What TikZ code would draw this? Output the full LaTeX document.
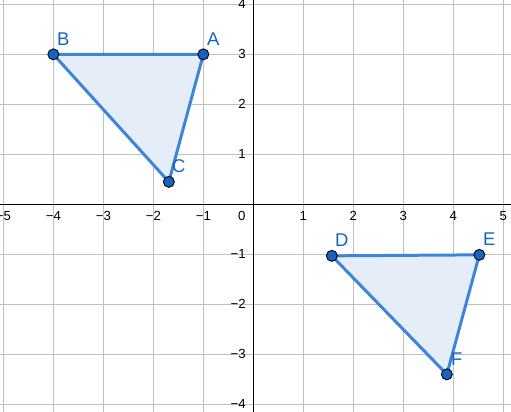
\documentclass[tikz,border=0pt]{standalone}
\usepackage{fontspec}
\setmainfont{Liberation Sans}
\usetikzlibrary{positioning, calc}

\definecolor{ptblue}{RGB}{21,101,192}
\definecolor{edgeblue}{RGB}{61,133,214}
\definecolor{areablue}{RGB}{229,237,249}
\definecolor{gridgray}{RGB}{192,192,192}

\tikzset{
  pt/.style={circle, draw=black, line width=0.5pt, fill=ptblue, inner sep=0pt, minimum size=2.2mm},
  ptlabel/.style={text=ptblue, font=\fontsize{10.5}{11}\selectfont},
  ticklabel/.style={font=\fontsize{7.5}{8}\selectfont, inner sep=0pt},
  triangle/.style={draw=edgeblue, line width=1.7pt, fill=areablue, line join=round}
}

\begin{document}
\begin{tikzpicture}[>=latex]
\useasboundingbox (-5.067,-4.153) rectangle (5.153,4.087);
\clip (-5.067,-4.153) rectangle (5.153,4.087);

% grid
\foreach \x in {-5,...,5} {
    \draw[gridgray, line width=0.55pt] (\x,-4.2) -- (\x,4.2);
};
\foreach \y in {-4,...,4} {
    \draw[gridgray, line width=0.55pt] (-5.1,\y) -- (5.2,\y);
};

% axes
\draw[black, line width=0.6pt] (-5.1,0) -- (5.2,0) node (xaxis) {};
\draw[black, line width=0.6pt] (0,-4.2) -- (0,4.2) node (yaxis) {};

\foreach \x in {-5,-4,-3,-2,-1} {
    \node[ticklabel] (xlbl\x) at (\x,-0.234) {−\the\numexpr-\x\relax};
};
\foreach \x in {1,2,3,4,5} {
    \node[ticklabel] (xlbl\x) at (\x,-0.234) {\x};
};
\foreach \y in {-4,-3,-2,-1} {
    \node[ticklabel, anchor=east] (ylbl\y) at (-0.146,\y) {−\the\numexpr-\y\relax};
};
\foreach \y in {1,2,3,4} {
    \node[ticklabel, anchor=east] (ylbl\y) at (-0.146,\y) {\y};
};
\node[ticklabel] (origin) at (-0.23,-0.234) {0};

% points
\coordinate (A) at (-1,3);
\coordinate (B) at (-4,3);
\coordinate (C) at (-1.69,0.45);
\coordinate (D) at (1.57,-1.03);
\coordinate (E) at (4.52,-1.01);
\coordinate (F) at (3.87,-3.40);

\draw[triangle] (A) -- (B) -- (C) -- cycle;
\draw[triangle] (D) -- (E) -- (F) -- cycle;

\foreach \p in {A,B,C,D,E,F} {
    \node[pt] (dot\p) at (\p) {};
    \node[ptlabel] (lbl\p) at ($(\p)+(0.2,0.31)$) {\p};
};

\end{tikzpicture}
\end{document}
